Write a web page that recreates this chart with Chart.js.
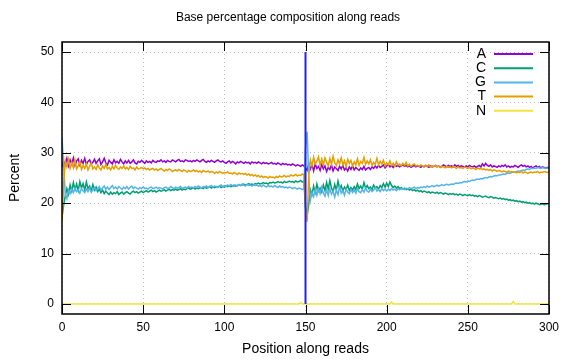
<!DOCTYPE html>
<html>
<head>
<meta charset="utf-8">
<script src="https://cdn.jsdelivr.net/npm/chart.js"></script>
<style>
  body { margin: 0; background: #fff; }
  #c { display: block; }
</style>
</head>
<body>
<canvas id="c" width="576" height="360"></canvas>
<script>
// --- dados ---
const positions = Array.from({ length: 301 }, (_, i) => i); // posição 0..300
const xTicks = [0, 50, 100, 150, 200, 250, 300];
const yTicks = [0, 10, 20, 30, 40, 50];
const baseNames = ['A', 'C', 'G', 'T', 'N'];

const pctA = [
  27.2, 28.3, 27.6, 28.9, 27.4, 28.6, 27.8, 29.0, 27.5, 28.4,
  28.8, 27.6, 28.5, 27.9, 28.9, 27.7, 28.3, 28.6, 27.8, 28.1,
  28.7, 27.9, 28.4, 28.8, 27.7, 28.2, 28.9, 28.0, 27.6, 28.5,
  28.1, 27.8, 28.6, 28.0, 28.3, 27.9, 28.7, 28.2, 27.8, 28.4,
  28.0, 28.5, 27.9, 28.2, 28.6, 28.0, 27.8, 28.3, 28.1, 28.5,
  28.2, 27.9, 28.4, 28.1, 28.3, 28.0, 28.5, 28.2, 28.1, 28.4,
  28.3, 28.6, 28.2, 28.4, 28.1, 28.5, 28.3, 28.2, 28.6, 28.4,
  28.2, 28.5, 28.7, 28.3, 28.4, 28.2, 28.6, 28.5, 28.3, 28.4,
  28.2, 28.5, 28.3, 28.6, 28.4, 28.2, 28.5, 28.7, 28.3, 28.1,
  28.4, 28.2, 28.5, 28.3, 28.1, 28.4, 28.6, 28.3, 28.2, 28.4,
  28.1, 27.9, 28.2, 28.4, 28.0, 28.3, 28.1, 27.8, 28.2, 28.0,
  28.3, 28.1, 27.9, 28.2, 28.0, 28.1, 27.8, 28.2, 28.0, 28.1,
  27.9, 28.2, 28.0, 27.8, 28.1, 27.9, 28.0, 27.8, 27.9, 28.1,
  27.8, 27.9, 27.7, 28.0, 27.8, 27.6, 27.9, 27.7, 27.8, 27.6,
  27.7, 27.5, 27.8, 27.6, 27.4, 27.6, 27.5, 27.3, 27.6, 27.4,
  // read 2
  27.0, 26.5, 27.9, 26.8, 27.6, 26.4, 27.8, 26.9, 27.3, 26.5,
  27.7, 26.8, 27.4, 26.3, 27.1, 26.7, 27.6, 26.4, 27.2, 26.9,
  26.5, 27.3, 26.8, 27.5, 26.6, 27.0, 26.4, 27.2, 26.7, 27.4,
  26.6, 27.1, 26.8, 26.5, 27.0, 26.7, 27.3, 26.6, 26.9, 27.1,
  26.7, 27.2, 26.9, 27.4, 27.0, 27.5, 27.1, 27.3, 27.6, 27.0,
  27.4, 27.7, 27.2, 27.5, 27.1, 27.6, 27.3, 27.5, 27.2, 27.4,
  27.6, 27.3, 27.5, 27.2, 27.4, 27.1, 27.3, 27.5, 27.2, 27.4,
  27.3, 27.1, 27.4, 27.2, 27.5, 27.3, 27.1, 27.4, 27.2, 27.3,
  27.5, 27.2, 27.4, 27.1, 27.3, 27.6, 27.4, 27.2, 27.5, 27.3,
  27.4, 27.2, 27.6, 27.3, 27.5, 27.2, 27.4, 27.3, 27.1, 27.4,
  27.2, 27.5, 27.3, 27.2, 27.4, 27.1, 27.3, 27.5, 27.2, 27.8,
  27.4, 27.9, 27.5, 27.3, 27.6, 27.2, 27.4, 27.3, 27.1, 27.4,
  27.2, 27.5, 27.3, 27.6, 27.2, 27.4, 27.1, 27.3, 27.2, 27.5,
  27.3, 27.1, 27.4, 27.6, 27.3, 27.5, 27.2, 27.4, 27.1, 27.3,
  27.0, 27.2, 27.4, 27.1, 27.3, 27.0, 27.2, 27.1, 26.9, 27.1,
  27.0
];

const pctC = [
  17.2, 19.6, 21.4, 22.9, 21.8, 23.6, 22.4, 24.1, 22.7, 23.8,
  22.5, 24.3, 23.0, 23.9, 22.6, 24.2, 22.9, 23.4, 22.4, 23.7,
  22.6, 23.2, 22.3, 22.8, 22.1, 22.6, 21.9, 22.4, 22.0, 21.7,
  22.2, 21.8, 22.1, 21.9, 22.3, 21.7, 22.0, 22.2, 21.8, 22.1,
  22.3, 22.0, 21.8, 22.2, 22.4, 22.1, 22.3, 22.0, 22.2, 22.4,
  22.1, 22.3, 22.5, 22.2, 22.4, 22.6, 22.3, 22.5, 22.2, 22.4,
  22.6, 22.4, 22.5, 22.7, 22.4, 22.6, 22.8, 22.5, 22.7, 22.6,
  22.8, 22.6, 22.7, 22.9, 22.6, 22.8, 22.7, 22.9, 23.0, 22.8,
  22.9, 23.1, 22.8, 23.0, 22.9, 23.1, 23.0, 22.9, 23.2, 23.0,
  23.1, 23.3, 23.0, 23.2, 23.1, 23.3, 23.2, 23.4, 23.1, 23.3,
  23.2, 23.4, 23.3, 23.5, 23.3, 23.4, 23.6, 23.4, 23.5, 23.7,
  23.5, 23.6, 23.8, 23.6, 23.7, 23.9, 23.7, 23.8, 23.6, 23.9,
  23.8, 24.0, 23.8, 23.9, 24.1, 23.9, 24.0, 23.8, 24.1, 24.0,
  24.2, 24.0, 24.1, 24.3, 24.1, 24.2, 24.0, 24.3, 24.1, 24.2,
  24.4, 24.2, 24.3, 24.1, 24.4, 24.2, 24.3, 24.5, 24.2, 24.4,
  // read 2
  19.2, 17.6, 19.8, 22.6, 21.7, 23.4, 22.1, 23.8, 22.4, 23.0,
  22.2, 23.6, 22.5, 24.1, 22.8, 24.5, 23.0, 22.3, 23.7, 22.6,
  24.4, 22.9, 23.5, 22.4, 23.2, 22.7, 23.6, 22.5, 23.1, 22.6,
  23.3, 22.7, 23.8, 22.9, 23.4, 22.8, 24.1, 23.0, 23.5, 22.9,
  23.2, 22.7, 23.6, 23.0, 23.3, 22.8, 23.5, 23.1, 23.9, 23.2,
  24.0, 23.3, 24.2, 23.5, 23.1, 23.4, 23.0, 23.3, 22.9, 23.1,
  22.8, 23.0, 22.7, 22.9, 22.6, 22.8, 22.5, 22.7, 22.4, 22.6,
  22.3, 22.5, 22.2, 22.4, 22.3, 22.1, 22.3, 22.0, 22.2, 22.1,
  22.0, 22.2, 21.9, 22.1, 22.0, 21.8, 22.0, 21.9, 21.7, 21.9,
  21.8, 21.9, 21.7, 21.8, 21.6, 21.8, 21.7, 21.5, 21.7, 21.6,
  21.5, 21.7, 21.5, 21.6, 21.4, 21.5, 21.3, 21.5, 21.4, 21.2,
  21.3, 21.4, 21.2, 21.1, 21.3, 21.2, 21.0, 21.1, 21.0, 20.9,
  21.0, 20.8, 20.9, 20.7, 20.8, 20.6, 20.7, 20.5, 20.6, 20.4,
  20.5, 20.3, 20.4, 20.2, 20.3, 20.1, 20.2, 20.0, 20.1, 19.9,
  20.0, 19.8, 20.0, 19.9, 19.7, 19.8, 19.9, 19.7, 19.8, 19.9,
  19.9
];

const pctG = [
  33.0, 27.5, 21.8, 20.9, 22.6, 21.9, 22.8, 22.1, 23.0, 22.3,
  22.7, 22.0, 22.9, 22.4, 22.1, 22.8, 22.3, 23.0, 22.2, 22.6,
  23.1, 22.5, 22.9, 23.3, 22.6, 23.0, 23.4, 22.8, 23.2, 22.7,
  23.1, 23.5, 22.9, 23.2, 22.8, 23.3, 23.0, 22.7, 23.2, 22.9,
  23.3, 22.8, 23.1, 23.4, 22.9, 23.2, 23.0, 22.8, 23.1, 22.9,
  23.2, 22.9, 23.0, 22.8, 23.1, 23.2, 22.9, 23.0, 23.2, 22.9,
  23.1, 23.0, 22.8, 23.1, 23.2, 22.9, 23.0, 23.3, 23.1, 22.9,
  23.2, 23.0, 23.1, 23.3, 22.9, 23.1, 23.2, 23.0, 23.3, 23.1,
  23.2, 23.0, 23.3, 23.1, 23.4, 23.2, 23.0, 23.3, 23.2, 23.4,
  23.1, 23.3, 23.5, 23.2, 23.4, 23.3, 23.1, 23.4, 23.6, 23.3,
  23.5, 23.3, 23.6, 23.4, 23.7, 23.5, 23.3, 23.6, 23.4, 23.7,
  23.5, 23.8, 23.6, 23.4, 23.7, 23.5, 23.6, 23.4, 23.7, 23.5,
  23.6, 23.4, 23.5, 23.3, 23.6, 23.4, 23.2, 23.5, 23.3, 23.4,
  23.2, 23.5, 23.3, 23.1, 23.4, 23.2, 23.3, 23.1, 23.2, 23.0,
  23.2, 23.1, 22.9, 23.1, 23.0, 22.8, 23.0, 22.9, 22.7, 22.9,
  // read 2
  31.0, 34.2, 25.2, 20.6, 22.1, 21.3, 22.8, 21.6, 22.9, 21.9,
  23.2, 22.0, 21.4, 22.7, 21.5, 22.9, 21.8, 22.4, 21.2, 22.6,
  21.7, 23.3, 22.0, 22.5, 21.6, 22.8, 22.2, 21.9, 22.7, 22.1,
  22.6, 22.0, 22.9, 22.3, 22.1, 22.7, 22.2, 23.0, 22.4, 22.2,
  22.8, 22.3, 22.6, 23.1, 22.4, 22.7, 22.3, 22.9, 22.5, 22.8,
  22.4, 22.8, 22.5, 22.9, 22.6, 22.8, 22.5, 22.9, 22.7, 22.8,
  22.9, 22.7, 23.0, 22.8, 23.1, 22.9, 23.0, 23.2, 22.9, 23.1,
  23.0, 23.2, 23.1, 23.3, 23.1, 23.4, 23.2, 23.3, 23.5, 23.3,
  23.4, 23.6, 23.4, 23.5, 23.7, 23.5, 23.6, 23.8, 23.6, 23.7,
  23.8, 23.7, 23.9, 24.0, 23.9, 24.1, 24.0, 24.2, 24.3, 24.2,
  24.4, 24.3, 24.5, 24.6, 24.5, 24.7, 24.8, 24.7, 24.9, 24.8,
  25.0, 25.1, 25.0, 25.2, 25.3, 25.2, 25.4, 25.5, 25.4, 25.6,
  25.6, 25.7, 25.8, 25.7, 25.9, 26.0, 25.9, 26.1, 26.2, 26.1,
  26.3, 26.4, 26.3, 26.5, 26.6, 26.5, 26.7, 26.8, 26.7, 26.9,
  26.9, 27.0, 26.9, 27.1, 27.0, 26.9, 27.1, 27.0, 26.9, 27.0,
  27.0
];

const pctT = [
  16.5, 23.8, 28.4, 27.2, 28.7, 26.9, 28.1, 27.0, 28.6, 26.8,
  27.4, 28.2, 26.7, 27.5, 26.9, 27.8, 26.6, 27.3, 28.0, 26.8,
  27.2, 26.7, 27.6, 27.0, 26.6, 27.4, 26.9, 27.7, 26.8, 27.1,
  26.6, 27.3, 26.8, 27.5, 27.0, 26.7, 27.2, 26.9, 27.4, 26.8,
  27.1, 26.7, 27.3, 26.9, 27.0, 26.6, 27.2, 26.8, 26.9, 27.1,
  26.8, 27.0, 26.7, 26.9, 26.6, 26.8, 26.9, 26.6, 26.8, 26.5,
  26.7, 26.9, 26.6, 26.4, 26.7, 26.5, 26.8, 26.6, 26.3, 26.5,
  26.6, 26.4, 26.7, 26.5, 26.3, 26.6, 26.4, 26.2, 26.5, 26.3,
  26.4, 26.6, 26.3, 26.5, 26.2, 26.4, 26.1, 26.5, 26.3, 26.2,
  26.4, 26.1, 26.3, 26.2, 25.9, 26.2, 26.0, 26.3, 26.1, 25.9,
  26.1, 26.0, 26.2, 25.9, 26.0, 25.8, 26.1, 25.9, 25.7, 26.0,
  25.8, 25.9, 25.7, 25.9, 25.6, 25.8, 25.5, 25.7, 25.4, 25.6,
  25.3, 25.5, 25.2, 25.4, 25.1, 25.3, 25.2, 25.0, 25.3, 25.1,
  25.2, 25.0, 25.3, 25.1, 25.4, 25.2, 25.3, 25.5, 25.2, 25.4,
  25.3, 25.6, 25.4, 25.5, 25.7, 25.4, 25.6, 25.5, 25.8, 25.6,
  // read 2
  19.0, 16.3, 25.6, 28.6, 27.4, 29.1, 27.8, 28.3, 29.2, 27.5,
  28.8, 27.6, 29.0, 28.1, 27.4, 28.9, 27.7, 29.3, 28.0, 27.5,
  28.6, 27.8, 29.0, 27.6, 28.4, 27.3, 28.7, 27.9, 28.5, 27.4,
  28.2, 27.6, 28.8, 27.5, 28.3, 27.9, 29.1, 27.7, 28.4, 27.8,
  28.6, 27.5, 28.1, 27.7, 28.9, 27.6, 28.3, 27.8, 28.5, 27.4,
  28.0, 27.6, 28.4, 27.5, 27.9, 27.3, 28.2, 27.6, 27.8, 27.4,
  27.9, 27.5, 28.1, 27.4, 27.7, 27.3, 27.6, 27.8, 27.4, 27.5,
  27.3, 27.6, 27.4, 27.2, 27.5, 27.3, 27.6, 27.2, 27.4, 27.3,
  27.5, 27.2, 27.4, 27.1, 27.3, 27.2, 27.0, 27.3, 27.1, 27.2,
  27.0, 27.3, 27.1, 26.9, 27.2, 27.0, 27.1, 26.9, 27.2, 27.0,
  26.9, 27.1, 26.8, 27.0, 26.9, 26.7, 27.0, 26.8, 26.9, 26.7,
  26.8, 26.6, 26.7, 26.5, 26.7, 26.4, 26.6, 26.5, 26.3, 26.5,
  26.4, 26.2, 26.4, 26.3, 26.1, 26.4, 26.2, 26.3, 26.1, 26.2,
  26.0, 26.2, 26.1, 26.3, 26.0, 26.2, 26.1, 25.9, 26.1, 26.2,
  26.0, 26.2, 26.1, 26.3, 26.0, 26.2, 26.1, 26.3, 26.2, 26.1,
  26.2
];

// N quase sempre 0, com pequenos picos
const nPositions = [0, 146, 147, 148, 202, 203, 204, 277, 278, 279, 300];
const pctN = [0, 0, 0.3, 0, 0, 0.4, 0, 0, 0.5, 0, 0];

// linha vertical que separa as duas leituras
const splitPos = 150;
const splitRange = [0, 50];

const colors = ['#9400d3', '#009e73', '#56b4e9', '#e69f00', '#f0e442'];
const FONT = '"Liberation Sans", Arial, sans-serif';

function toPoints(xs, ys) {
    return ys.map((y, i) => ({ x: xs[i], y: y }));
}

const series = [pctA, pctC, pctG, pctT];
const datasets = series.map((vals, i) => ({
    label: baseNames[i],
    data: toPoints(positions, vals),
    borderColor: colors[i],
    borderWidth: 1.5,
    order: 10 - i
}));
datasets.push({
    label: 'N',
    data: toPoints(nPositions, pctN),
    borderColor: colors[4],
    borderWidth: 1.5,
    order: 5
});
datasets.push({
    label: 'split',
    data: splitRange.map(y => ({ x: splitPos, y: y })),
    borderColor: '#1f1fff',
    borderWidth: 2,
    order: 1
});

// moldura, ticks para dentro, textos e legenda (estilo gnuplot)
const framePlugin = {
    id: 'frame',
    afterDraw(chart) {
        const c = chart.ctx;
        const a = chart.chartArea;
        const xs = chart.scales.x, ys = chart.scales.y;
        c.save();
        c.strokeStyle = '#000';
        c.lineWidth = 1;
        c.beginPath();
        yTicks.forEach(v => {
            const y = Math.round(ys.getPixelForValue(v)) + 0.5;
            c.moveTo(a.left, y); c.lineTo(a.left + 9, y);
            c.moveTo(a.right, y); c.lineTo(a.right - 9, y);
        });
        xTicks.forEach(v => {
            const x = Math.round(xs.getPixelForValue(v)) + 0.5;
            c.moveTo(x, a.bottom); c.lineTo(x, a.bottom - 9);
            c.moveTo(x, a.top); c.lineTo(x, a.top + 9);
        });
        c.stroke();
        c.lineWidth = 1.5;
        c.strokeRect(a.left, a.top, a.right - a.left, a.bottom - a.top);

        c.fillStyle = '#000';
        c.font = '12px ' + FONT;
        c.textAlign = 'center';
        c.textBaseline = 'middle';
        c.fillText('Base percentage composition along reads', 288, 18);
        c.font = '14px ' + FONT;
        c.fillText('Position along reads', (a.left + a.right) / 2, 349);
        c.save();
        c.translate(15, (a.top + a.bottom) / 2);
        c.rotate(-Math.PI / 2);
        c.fillText('Percent', 0, 0);
        c.restore();

        // legenda
        c.font = '14px ' + FONT;
        c.textAlign = 'right';
        baseNames.forEach((name, i) => {
            const y = 54 + i * 14.2;
            c.fillStyle = '#000';
            c.fillText(name, 486, y);
            c.strokeStyle = colors[i];
            c.lineWidth = 2;
            c.beginPath();
            c.moveTo(494, y); c.lineTo(533, y);
            c.stroke();
        });
        c.restore();
    }
};

const gridOpts = { color: '#c0c0c0', lineWidth: 1, drawTicks: false };
const borderOpts = { display: false, dash: [1, 3] };

new Chart(document.getElementById('c'), {
    type: 'line',
    data: { datasets: datasets },
    options: {
        responsive: false,
        animation: false,
        layout: { padding: { left: 0, right: 27, top: 42, bottom: 0 } },
        elements: { point: { radius: 0 }, line: { tension: 0 } },
        plugins: {
            legend: { display: false },
            title: { display: false },
            tooltip: { enabled: false }
        },
        scales: {
            x: {
                type: 'linear',
                min: 0,
                max: 300,
                afterBuildTicks: s => { s.ticks = xTicks.map(v => ({ value: v })); },
                ticks: { padding: 6, color: '#000', maxRotation: 0, font: { family: FONT, size: 12 } },
                grid: gridOpts,
                border: borderOpts,
                afterFit: s => { s.height = 46; }
            },
            y: {
                min: -2,
                max: 52,
                afterBuildTicks: s => { s.ticks = yTicks.map(v => ({ value: v })); },
                ticks: { padding: 8, color: '#000', font: { family: FONT, size: 12 } },
                grid: gridOpts,
                border: borderOpts,
                afterFit: s => { s.width = 62; }
            }
        }
    },
    plugins: [framePlugin]
});
</script>
</body>
</html>
